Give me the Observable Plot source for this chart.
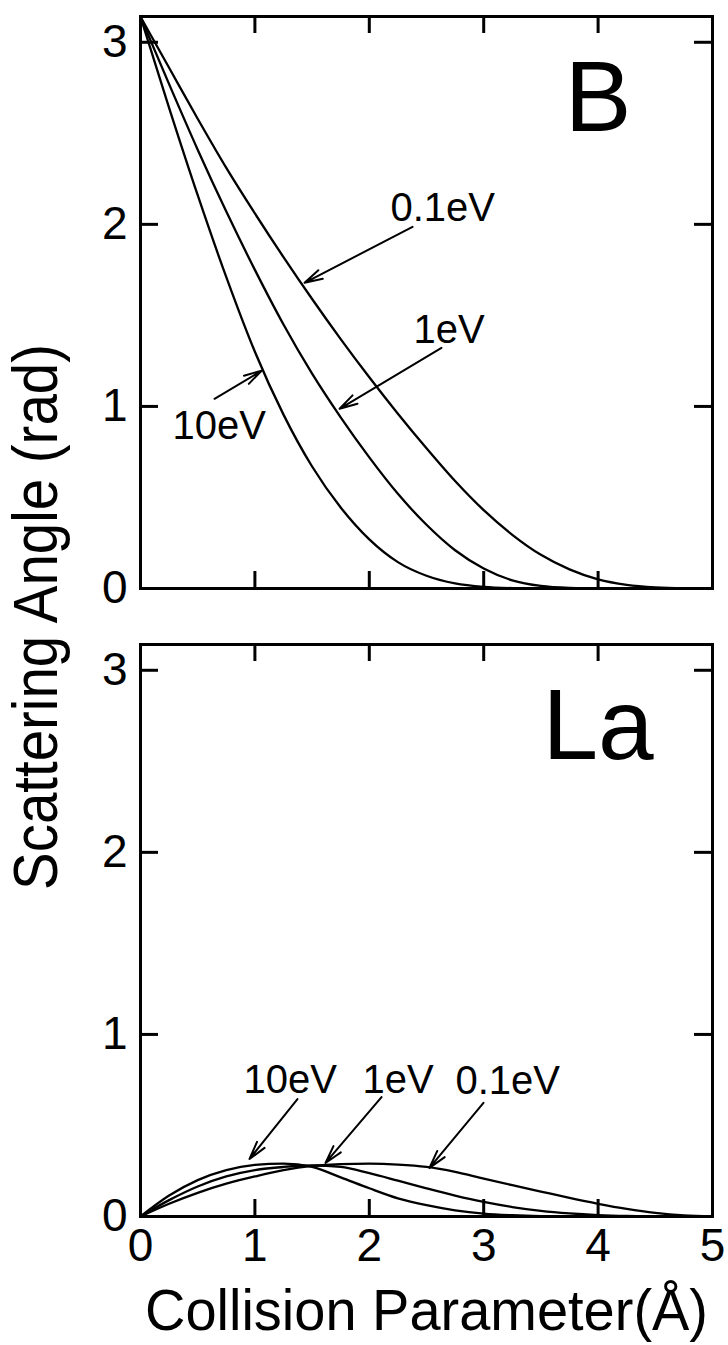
<!DOCTYPE html>
<html>
<head>
<meta charset="utf-8">
<script src="https://cdn.jsdelivr.net/npm/d3@7"></script>
<script src="https://cdn.jsdelivr.net/npm/@observablehq/plot@0.6"></script>
<style>
  html, body { margin: 0; padding: 0; background: #fff; }
  svg { display: block; }
</style>
</head>
<body>
<div id="chart"></div>
<script>
// ---- Data ----
const panels = ["B", "La"];
const energies = ["10eV", "1eV", "0.1eV"];
const xGrid = [0, 0.25, 0.5, 0.75, 1.0, 1.25, 1.5, 1.75, 2.0, 2.25, 2.5, 2.75, 3.0, 3.25, 3.5, 3.75, 4.0, 4.25, 4.5, 4.75, 5.0];

// B panel: scattering angle (rad)
const B_10eV  = [3.14, 2.64, 2.16, 1.71, 1.30, 0.955, 0.67, 0.445, 0.27, 0.145, 0.07, 0.028, 0.009, 0.002, 0, 0, 0, 0, 0, 0, 0];
const B_1eV   = [3.14, 2.77, 2.41, 2.07, 1.75, 1.45, 1.18, 0.94, 0.72, 0.52, 0.35, 0.21, 0.11, 0.045, 0.014, 0.003, 0, 0, 0, 0, 0];
const B_01eV  = [3.14, 2.86, 2.58, 2.31, 2.06, 1.82, 1.59, 1.37, 1.16, 0.96, 0.77, 0.59, 0.43, 0.295, 0.185, 0.105, 0.05, 0.02, 0.006, 0.001, 0];

// La panel
const La_10eV = [0, 0.115, 0.20, 0.255, 0.283, 0.29, 0.272, 0.215, 0.155, 0.10, 0.062, 0.034, 0.016, 0.007, 0.002, 0, 0, 0, 0, 0, 0];
const La_1eV  = [0, 0.09, 0.165, 0.22, 0.255, 0.272, 0.28, 0.272, 0.238, 0.197, 0.155, 0.115, 0.08, 0.052, 0.031, 0.017, 0.008, 0.003, 0.001, 0, 0];
const La_01eV = [0, 0.07, 0.13, 0.18, 0.22, 0.255, 0.278, 0.288, 0.29, 0.285, 0.272, 0.245, 0.208, 0.172, 0.137, 0.102, 0.07, 0.042, 0.02, 0.006, 0];

const xTicks = [0, 1, 2, 3, 4, 5];
const yTicks = [0, 1, 2, 3];
const innerXTicks = [1, 2, 3, 4];
const innerYTicks = [1, 2, 3];

const xTitle = "Collision Parameter(\u00C5)";
const yTitle = "Scattering Angle (rad)";

// annotation labels (data coordinates)
const labelPanel = ["B", "B", "B", "La", "La", "La"];
const labelText  = ["0.1eV", "1eV", "10eV", "10eV", "1eV", "0.1eV"];
const labelX     = [2.185, 2.386, 0.28, 0.90, 1.94, 2.753];
const labelY     = [2.02, 1.35, 0.823, 0.679, 0.679, 0.672];
// arrows (data coordinates): start -> tip
const arrowX1 = [2.378, 2.631, 0.647, 1.372, 2.107, 2.998];
const arrowY1 = [1.986, 1.322, 1.042, 0.645, 0.656, 0.624];
const arrowX2 = [1.434, 1.740, 1.058, 0.953, 1.617, 2.526];
const arrowY2 = [1.679, 0.987, 1.196, 0.316, 0.294, 0.267];

// ---- Build tables ----
const seriesByPanel = {
  B:  {"10eV": B_10eV,  "1eV": B_1eV,  "0.1eV": B_01eV},
  La: {"10eV": La_10eV, "1eV": La_1eV, "0.1eV": La_01eV}
};
const rows = [];
for (const p of panels) for (const e of energies) {
  seriesByPanel[p][e].forEach((v, i) => rows.push({panel: p, energy: e, x: xGrid[i], y: v}));
}
const labels = labelText.map((t, i) => ({panel: labelPanel[i], text: t, x: labelX[i], y: labelY[i]}));
const arrows = labelText.map((t, i) => ({panel: labelPanel[i], x1: arrowX1[i], y1: arrowY1[i], x2: arrowX2[i], y2: arrowY2[i]}));
const panelNames = panels.map(p => ({panel: p}));

const W = 728, H = 1345;
const mL = 140, mR = 16, mT = 15, mB = 128;
const innerW = W - mL - mR;     // 572
const tickLen = 18;

const chart = Plot.plot({
  width: W,
  height: H,
  marginLeft: mL,
  marginRight: mR,
  marginTop: mT,
  marginBottom: mB,
  style: {fontFamily: "'Liberation Sans', Arial, Helvetica, sans-serif", fontSize: "46px", color: "black", background: "white"},
  x: {domain: [0, 5]},
  y: {domain: [0, Math.PI]},
  fy: {domain: panels, axis: null, paddingInner: 0.089, paddingOuter: 0},
  marks: [
    Plot.frame({stroke: "black", strokeWidth: 3}),
    // inward ticks on all four sides
    Plot.tickX(innerXTicks, {x: d => d, insetBottom: 573 - tickLen, stroke: "black", strokeWidth: 3}),
    Plot.tickX(innerXTicks, {x: d => d, insetTop: 573 - tickLen, stroke: "black", strokeWidth: 3}),
    Plot.tickY(innerYTicks, {y: d => d, insetRight: innerW - tickLen, stroke: "black", strokeWidth: 3}),
    Plot.tickY(innerYTicks, {y: d => d, insetLeft: innerW - tickLen, stroke: "black", strokeWidth: 3}),
    Plot.axisY({ticks: yTicks, tickSize: 0, tickPadding: 13, label: null, fontSize: 46, tickFormat: d3.format("d")}),
    Plot.axisX({ticks: xTicks, tickSize: 0, tickPadding: 12, label: null, fontSize: 46, tickFormat: d3.format("d")}),
    // curves
    Plot.line(rows, {x: "x", y: "y", z: "energy", fy: "panel", curve: "monotone-x", stroke: "black", strokeWidth: 2.3}),
    // annotations
    Plot.arrow(arrows, {x1: "x1", y1: "y1", x2: "x2", y2: "y2", fy: "panel", stroke: "black", strokeWidth: 2, headLength: 14, headAngle: 30}),
    Plot.text(labels, {x: "x", y: "y", text: "text", fy: "panel", textAnchor: "start", lineAnchor: "bottom", fontSize: 40, fill: "black"}),
    // panel names
    Plot.text(panelNames, {x: () => 4.0, y: () => 2.51, text: "panel", fy: "panel", textAnchor: "middle", lineAnchor: "bottom", fontSize: 100, fill: "black"}),
    // axis titles
    Plot.text([{panel: "La"}], {fy: "panel", frameAnchor: "bottom", text: () => xTitle, dy: 113, lineAnchor: "bottom", textAnchor: "middle", fontSize: 58, fill: "black"}),
    Plot.text([{panel: "B"}], {fy: "panel", frameAnchor: "left", text: () => yTitle, dx: -104, dy: 314.5, rotate: -90, lineAnchor: "middle", textAnchor: "middle", fontSize: 63, fill: "black"})
  ]
});

// slightly condensed titles, as in the reference
for (const t of chart.querySelectorAll("text")) {
  if (t.textContent === xTitle) { t.setAttribute("textLength", 563); t.setAttribute("lengthAdjust", "spacingAndGlyphs"); }
  if (t.textContent === yTitle) { t.setAttribute("textLength", 546); t.setAttribute("lengthAdjust", "spacingAndGlyphs"); }
}

document.getElementById("chart").appendChild(chart);
</script>
</body>
</html>
